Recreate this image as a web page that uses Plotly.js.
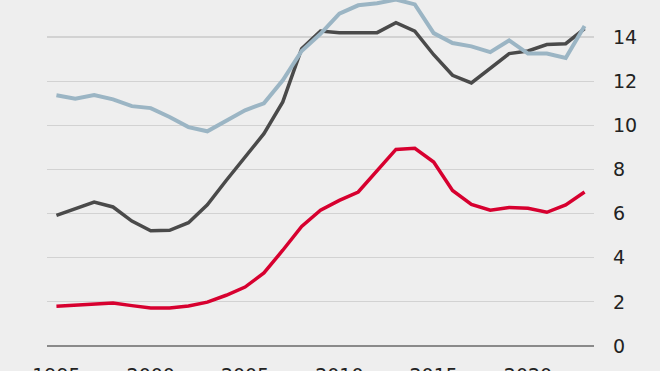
<!DOCTYPE html>
<html>
<head>
<meta charset="utf-8">
<script src="https://cdn.plot.ly/plotly-3.0.1.min.js"></script>
<style>html,body{margin:0;padding:0;background:#eeeeee;}#chart{width:660px;height:371px;}</style>
</head>
<body>
<div id="chart"></div>
<script>
const years = [1995,1996,1997,1998,1999,2000,2001,2002,2003,2004,2005,2006,2007,2008,2009,2010,2011,2012,2013,2014,2015,2016,2017,2018,2019,2020,2021,2022,2023];
const grayValues = [5.92,6.22,6.52,6.30,5.66,5.22,5.24,5.59,6.40,7.50,8.56,9.62,11.06,13.47,14.27,14.2,14.2,14.2,14.65,14.27,13.2,12.27,11.92,12.57,13.25,13.37,13.66,13.7,14.38];
const blueValues = [11.36,11.21,11.37,11.18,10.87,10.78,10.38,9.92,9.73,10.2,10.68,11.0,12.04,13.37,14.15,15.06,15.44,15.53,15.7,15.48,14.18,13.73,13.58,13.32,13.85,13.25,13.25,13.05,14.5];
const redValues = [1.80,1.84,1.90,1.95,1.83,1.72,1.72,1.81,1.99,2.30,2.67,3.31,4.34,5.42,6.15,6.6,6.98,7.96,8.91,8.96,8.34,7.05,6.42,6.15,6.28,6.24,6.06,6.39,6.98];
const xTicks = [1995,2000,2005,2010,2015,2020];
const yTicks = [0,2,4,6,8,10,12,14];

const traces = [
  {x: years, y: grayValues, type: 'scatter', mode: 'lines', line: {color: '#4a4a4a', width: 3.5}, hoverinfo: 'none'},
  {x: years, y: blueValues, type: 'scatter', mode: 'lines', line: {color: '#9bb5c4', width: 4}, hoverinfo: 'none'},
  {x: years, y: redValues, type: 'scatter', mode: 'lines', line: {color: '#d7002f', width: 3.5}, hoverinfo: 'none'}
];
const layout = {
  width: 660, height: 371,
  margin: {l: 47, r: 66, t: 0, b: 25, pad: 0},
  paper_bgcolor: '#eeeeee', plot_bgcolor: '#eeeeee',
  showlegend: false,
  font: {family: 'DejaVu Sans', size: 19, color: '#222222'},
  xaxis: {
    range: [1994.5, 2023.5], tickvals: xTicks, ticktext: xTicks.map(String),
    showgrid: false, zeroline: false, showline: false, ticks: '',
    ticklabelstandoff: 16
  },
  yaxis: {
    side: 'right', range: [0, 15.68], tickvals: yTicks, ticktext: yTicks.map(String),
    showgrid: true, gridcolor: '#d2d2d2', gridwidth: 1.2,
    zeroline: true, zerolinecolor: '#8a8a8a', zerolinewidth: 2.5,
    showline: false, ticks: '', ticklabelstandoff: 18
  }
};
Plotly.newPlot('chart', traces, layout, {staticPlot: true, displayModeBar: false});
</script>
</body>
</html>
